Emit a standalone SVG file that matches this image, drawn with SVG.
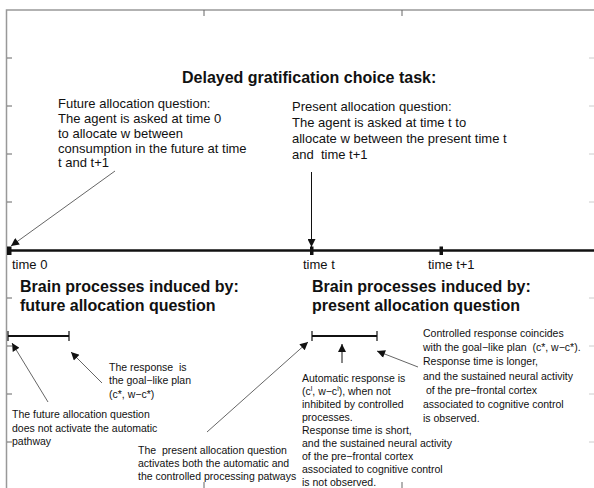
<svg xmlns="http://www.w3.org/2000/svg" width="594" height="488" viewBox="0 0 594 488">
<defs>
<style>
text{font-family:"Liberation Sans",Arial,sans-serif;fill:#111}
.t{font-size:13px}
.b{font-size:16px;font-weight:bold}
.s{font-size:10.5px}
.frame{stroke:#999;stroke-width:1.5;fill:none}
.tick{stroke:#666;stroke-width:1;fill:none}
.rtick{stroke:#ccc;stroke-width:1;fill:none}
.con{stroke:#666;stroke-width:1;fill:none;marker-end:url(#ah)}
.conb{stroke:#111;stroke-width:1;fill:none;marker-end:url(#ah)}
.bar{stroke:#111;stroke-width:2.2;fill:none}
.end{stroke:#111;stroke-width:1.2;fill:none}
</style>
<marker id="ah" viewBox="0 0 10 10" refX="10" refY="5" markerWidth="9" markerHeight="8" markerUnits="userSpaceOnUse" orient="auto">
<path d="M0,0 L10,5 L0,10 z" fill="#111"/>
</marker>
</defs>
<rect width="594" height="488" fill="#fff"/>
<g id="frame">
<path class="frame" d="M6.5,488 V10 H594"/>
<path class="tick" d="M204,10 V16 M402,10 V16 M204,482 V488 M402,482 V488"/>
<path class="tick" d="M7,58 H12 M7,106 H12 M7,154 H12 M7,202 H12 M7,298 H12 M7,346 H12 M7,394 H12 M7,442 H12"/>
<path class="rtick" d="M589,58 H594 M589,106 H594 M589,154 H594 M589,202 H594 M589,298 H594 M589,346 H594 M589,394 H594 M589,442 H594"/>
</g>
<g id="title"><text class="b" x="182" y="83">Delayed gratification choice task:</text></g>
<g id="future-question">
<text class="t" x="58" y="108">Future allocation question:</text>
<text class="t" x="58" y="123">The agent is asked at time 0</text>
<text class="t" x="58" y="138">to allocate w between</text>
<text class="t" x="58" y="153">consumption in the future at time</text>
<text class="t" x="58" y="167">t and t+1</text>
</g>
<g id="present-question">
<text class="t" x="292" y="111">Present allocation question:</text>
<text class="t" x="292" y="127">The agent is asked at time t to</text>
<text class="t" x="292" y="143">allocate w between the present time t</text>
<text class="t" x="292" y="159" xml:space="preserve">and  time t+1</text>
</g>
<g id="timeline">
<path d="M7,250.5 H594" stroke="#111" stroke-width="2.5"/>
<rect x="7" y="246.5" width="4.5" height="8.5" fill="#111"/>
<rect x="310" y="246.5" width="3.5" height="8.5" fill="#111"/>
<rect x="439.5" y="246.5" width="3.5" height="8.5" fill="#111"/>
<text class="t" x="12" y="269">time 0</text>
<text class="t" x="303" y="269">time t</text>
<text class="t" x="428" y="269">time t+1</text>
</g>
<g id="brain-future">
<text class="b" x="20" y="292">Brain processes induced by:</text>
<text class="b" x="20" y="311">future allocation question</text>
<path class="bar" d="M8,336 H69"/>
<path class="end" d="M8,331 V341 M69,331 V341"/>
</g>
<g id="brain-present">
<text class="b" x="312" y="292">Brain processes induced by:</text>
<text class="b" x="312" y="311">present allocation question</text>
<path class="bar" d="M312,336 H377"/>
<path class="end" d="M312,331 V341 M377,331 V341"/>
</g>
<g id="goal-response">
<text class="s" x="109" y="371" xml:space="preserve">The response  is</text>
<text class="s" x="109" y="384">the goal−like plan</text>
<text class="s" x="109" y="398">(c*, w−c*)</text>
</g>
<g id="future-no-auto">
<text class="s" x="12" y="418">The future allocation question</text>
<text class="s" x="12" y="432">does not activate the automatic</text>
<text class="s" x="12" y="445">pathway</text>
</g>
<g id="present-both">
<text class="s" x="138" y="454" xml:space="preserve">The  present allocation question</text>
<text class="s" x="138" y="467">activates both the automatic and</text>
<text class="s" x="138" y="480">the controlled processing patways</text>
</g>
<g id="automatic-response">
<text class="s" x="302" y="382">Automatic response is</text>
<text class="s" x="302" y="395">(c<tspan font-size="7" dy="-4">l</tspan><tspan dy="4">, w−c</tspan><tspan font-size="7" dy="-4">l</tspan><tspan dy="4">), when not</tspan></text>
<text class="s" x="302" y="408">inhibited by controlled</text>
<text class="s" x="302" y="421">processes.</text>
<text class="s" x="302" y="434">Response time is short,</text>
<text class="s" x="302" y="447">and the sustained neural activity</text>
<text class="s" x="302" y="460">of the pre−frontal cortex</text>
<text class="s" x="302" y="473">associated to cognitive control</text>
<text class="s" x="302" y="485.5">is not observed.</text>
</g>
<g id="controlled-response">
<text class="s" x="423" y="337">Controlled response coincides</text>
<text class="s" x="423" y="351" xml:space="preserve">with the goal−like plan  (c*, w−c*).</text>
<text class="s" x="423" y="365">Response time is longer,</text>
<text class="s" x="423" y="380">and the sustained neural activity</text>
<text class="s" x="423" y="394" xml:space="preserve"> of the pre−frontal cortex</text>
<text class="s" x="423" y="408">associated to cognitive control</text>
<text class="s" x="423" y="422">is observed.</text>
</g>
<g id="connectors">
<path class="con" d="M115,171 L11,246"/>
<path class="conb" d="M311.5,172 V247"/>
<path class="con" d="M48,402 L12,343"/>
<path class="con" d="M102,383 L71,352"/>
<path class="con" d="M207,432 L308,342"/>
<path class="conb" d="M342,363 V344"/>
<path class="con" d="M418,367 L377,351"/>
</g>
</svg>
